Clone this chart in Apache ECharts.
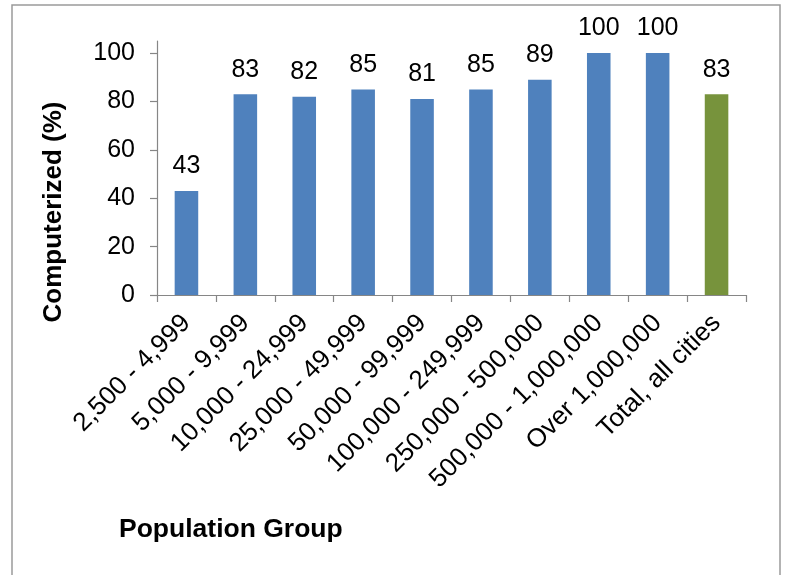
<!DOCTYPE html>
<html>
<head>
<meta charset="utf-8">
<title>Computerized by Population Group</title>
<script src="https://cdn.jsdelivr.net/npm/echarts@6/dist/echarts.min.js"></script>
<style>
  html, body { margin: 0; padding: 0; background: #fff; }
  #chart { width: 785px; height: 575px; }
</style>
</head>
<body>
<div id="chart"></div>
<script>
// Share of cities with computerized records, by population group
const categories = [
  '2,500 - 4,999', '5,000 - 9,999', '10,000 - 24,999', '25,000 - 49,999',
  '50,000 - 99,999', '100,000 - 249,999', '250,000 - 500,000',
  '500,000 - 1,000,000', 'Over 1,000,000', 'Total, all cities'
];
const values = [43, 83, 82, 85, 81, 85, 89, 100, 100, 83];
const yTicks = [0, 20, 40, 60, 80, 100];
const totalIndex = categories.length - 1;

const BLUE = '#4F81BD';
const GREEN = '#77933C';
const AXIS_GRAY = '#868686';
const FONT = '"Liberation Sans", Arial, sans-serif';

const chart = echarts.init(document.getElementById('chart'), null, { renderer: 'canvas' });

chart.setOption({
  animation: false,
  backgroundColor: '#ffffff',
  grid: { left: 157, right: 39, top: 41, bottom: 280, containLabel: false },
  xAxis: {
    type: 'category',
    data: categories,
    axisLine: { lineStyle: { color: AXIS_GRAY, width: 1.2 } },
    axisTick: { show: true, length: 7, alignWithLabel: false, lineStyle: { color: AXIS_GRAY, width: 1.2 } },
    axisLabel: {
      interval: 0,
      rotate: 45,
      margin: 24,
      color: '#000',
      fontFamily: FONT,
      fontSize: 26
    }
  },
  yAxis: {
    type: 'value',
    min: 0,
    max: 105,
    interval: 20,
    splitLine: { show: false },
    axisLine: { show: true, lineStyle: { color: AXIS_GRAY, width: 1.2 } },
    axisTick: { show: true, length: 7, customValues: yTicks, lineStyle: { color: AXIS_GRAY, width: 1.2 } },
    axisLabel: {
      customValues: yTicks,
      margin: 22,
      color: '#000',
      fontFamily: FONT,
      fontSize: 25
    }
  },
  series: [{
    type: 'bar',
    barWidth: '40%',
    data: values.map((v, i) => ({
      value: v,
      itemStyle: { color: i === totalIndex ? GREEN : BLUE }
    })),
    label: {
      show: true,
      position: 'top',
      distance: 12,
      color: '#000',
      fontFamily: FONT,
      fontSize: 25
    }
  }],
  graphic: [
    {
      type: 'rect',
      silent: true,
      shape: { x: 12, y: 5, width: 768, height: 600 },
      style: { fill: 'none', stroke: '#9a9a9a', lineWidth: 1.5 }
    },
    {
      type: 'text',
      silent: true,
      x: 54,
      y: 212,
      rotation: Math.PI / 2,
      style: {
        text: 'Computerized (%)',
        fill: '#000',
        font: 'bold 26px ' + FONT,
        textAlign: 'center',
        textVerticalAlign: 'middle'
      }
    },
    {
      type: 'text',
      silent: true,
      x: 119,
      y: 530,
      style: {
        text: 'Population Group',
        fill: '#000',
        font: 'bold 26.5px ' + FONT,
        textAlign: 'left',
        textVerticalAlign: 'middle'
      }
    }
  ]
});
</script>
</body>
</html>
